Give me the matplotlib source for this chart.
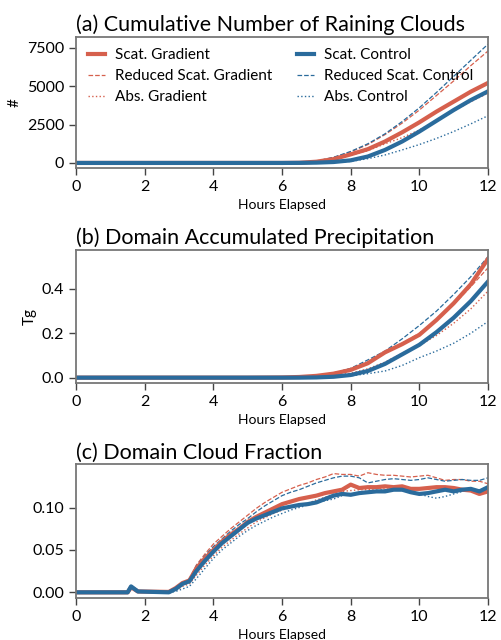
import matplotlib
matplotlib.use('Agg')
import matplotlib.pyplot as plt

plt.rcParams['font.family'] = ['Lato', 'DejaVu Sans']

# colours for the two experiment families
RED = '#d6604d'
BLUE = '#2a6b9c'

labels = ['Scat. Gradient', 'Reduced Scat. Gradient', 'Abs. Gradient',
          'Scat. Control', 'Reduced Scat. Control', 'Abs. Control']

# ---- panel (a) / (b) time axis (hours)
t_ab = [0, 1, 2, 3, 4, 5, 6, 6.5, 7, 7.5, 8, 8.5, 9, 9.5, 10, 10.5, 11, 11.5, 12]

# (a) cumulative number of raining clouds
rain_scat_grad = [0, 0, 0, 0, 0, 0, 0, 10, 80, 250, 560, 900, 1400, 2000, 2650, 3350, 4000, 4650, 5220]
rain_red_grad = [0, 0, 0, 0, 0, 0, 0, 20, 120, 350, 720, 1200, 1850, 2600, 3450, 4400, 5350, 6350, 7300]
rain_abs_grad = [0, 0, 0, 0, 0, 0, 0, 10, 70, 230, 500, 800, 1250, 1650, 2150, 2750, 3400, 4000, 4550]
rain_scat_ctrl = [0, 0, 0, 0, 0, 0, 0, 5, 20, 60, 170, 420, 850, 1400, 2050, 2750, 3450, 4100, 4670]
rain_red_ctrl = [0, 0, 0, 0, 0, 0, 0, 20, 120, 370, 750, 1250, 1900, 2700, 3600, 4600, 5650, 6700, 7750]
rain_abs_ctrl = [0, 0, 0, 0, 0, 0, 0, 0, 10, 40, 100, 280, 520, 850, 1200, 1600, 2050, 2550, 3080]

# (b) domain accumulated precipitation (Tg)
prec_scat_grad = [0, 0, 0, 0, 0, 0, 0.001, 0.003, 0.008, 0.018, 0.035, 0.065, 0.114, 0.151, 0.193, 0.26, 0.335, 0.421, 0.535]
prec_red_grad = [0, 0, 0, 0, 0, 0, 0.001, 0.004, 0.01, 0.022, 0.04, 0.07, 0.115, 0.155, 0.2, 0.26, 0.33, 0.41, 0.495]
prec_abs_grad = [0, 0, 0, 0, 0, 0, 0, 0.001, 0.004, 0.01, 0.02, 0.04, 0.07, 0.11, 0.145, 0.19, 0.245, 0.31, 0.39]
prec_scat_ctrl = [0, 0, 0, 0, 0, 0, 0, 0, 0.001, 0.004, 0.012, 0.03, 0.062, 0.105, 0.148, 0.205, 0.27, 0.345, 0.433]
prec_red_ctrl = [0, 0, 0, 0, 0, 0, 0.001, 0.003, 0.008, 0.02, 0.042, 0.08, 0.12, 0.175, 0.235, 0.3, 0.375, 0.455, 0.545]
prec_abs_ctrl = [0, 0, 0, 0, 0, 0, 0, 0, 0.001, 0.003, 0.008, 0.018, 0.03, 0.055, 0.09, 0.12, 0.155, 0.2, 0.253]

# ---- panel (c) time axis (hours)
t_c = [0, 1.5, 1.6, 1.8, 2.7, 2.9, 3.1, 3.3, 3.5, 3.75, 4.0, 4.25, 4.5, 4.75, 5.0, 5.25, 5.5, 5.75,
       6.0, 6.25, 6.5, 6.75, 7.0, 7.25, 7.5, 7.75, 8.0, 8.25, 8.5, 8.75, 9.0, 9.25, 9.5, 9.75,
       10.0, 10.25, 10.5, 10.75, 11.0, 11.25, 11.5, 11.75, 12.0]

# (c) domain cloud fraction
cf_scat_grad = [0, 0, 0.006, 0.001, 0.0005, 0.005, 0.011, 0.014, 0.028, 0.040, 0.050, 0.060, 0.068, 0.075, 0.083, 0.089, 0.094, 0.099,
                0.104, 0.107, 0.110, 0.112, 0.114, 0.117, 0.119, 0.121, 0.127, 0.123, 0.124, 0.124, 0.125, 0.124, 0.125, 0.122,
                0.122, 0.123, 0.124, 0.124, 0.123, 0.121, 0.120, 0.116, 0.119]
cf_red_grad = [0, 0, 0.005, 0.001, 0.0, 0.004, 0.010, 0.016, 0.032, 0.045, 0.057, 0.066, 0.075, 0.083, 0.091, 0.099, 0.106, 0.112,
               0.118, 0.122, 0.126, 0.129, 0.133, 0.136, 0.140, 0.139, 0.139, 0.137, 0.141, 0.139, 0.138, 0.138, 0.137, 0.136,
               0.137, 0.138, 0.135, 0.132, 0.133, 0.133, 0.131, 0.131, 0.128]
cf_abs_grad = [0, 0, 0.005, 0.001, 0.0, 0.002, 0.007, 0.010, 0.020, 0.032, 0.043, 0.053, 0.061, 0.069, 0.076, 0.083, 0.088, 0.093,
               0.097, 0.100, 0.103, 0.105, 0.109, 0.112, 0.116, 0.119, 0.120, 0.121, 0.121, 0.122, 0.122, 0.121, 0.120, 0.121,
               0.122, 0.124, 0.123, 0.121, 0.121, 0.120, 0.120, 0.120, 0.122]
cf_scat_ctrl = [0, 0, 0.007, 0.001, 0.0, 0.004, 0.010, 0.013, 0.025, 0.037, 0.048, 0.058, 0.066, 0.074, 0.082, 0.087, 0.091, 0.095,
                0.099, 0.101, 0.103, 0.104, 0.106, 0.110, 0.114, 0.116, 0.115, 0.117, 0.118, 0.119, 0.119, 0.121, 0.121, 0.118,
                0.116, 0.117, 0.119, 0.121, 0.119, 0.121, 0.122, 0.119, 0.124]
cf_red_ctrl = [0, 0, 0.005, 0.001, 0.0, 0.004, 0.009, 0.015, 0.031, 0.043, 0.054, 0.063, 0.072, 0.080, 0.087, 0.095, 0.102, 0.108,
               0.114, 0.118, 0.121, 0.125, 0.129, 0.132, 0.135, 0.137, 0.137, 0.135, 0.129, 0.131, 0.133, 0.134, 0.133, 0.132,
               0.133, 0.135, 0.133, 0.131, 0.132, 0.133, 0.132, 0.132, 0.135]
cf_abs_ctrl = [0, 0, 0.005, 0.001, 0.0, 0.001, 0.004, 0.007, 0.016, 0.028, 0.040, 0.050, 0.058, 0.066, 0.073, 0.079, 0.084, 0.089,
               0.093, 0.097, 0.100, 0.103, 0.106, 0.108, 0.110, 0.114, 0.116, 0.117, 0.118, 0.120, 0.121, 0.121, 0.120, 0.119,
               0.116, 0.113, 0.111, 0.113, 0.116, 0.119, 0.121, 0.121, 0.122]

styles = [(RED, '-', 3.0), (RED, '--', 0.9), (RED, ':', 1.0),
          (BLUE, '-', 3.0), (BLUE, '--', 0.9), (BLUE, ':', 1.0)]


def draw(ax, t, series):
    # draw order: thin lines first so the thick ones sit on top
    handles = [None] * 6
    for i in [1, 2, 4, 5, 0, 3]:
        c, ls, lw = styles[i]
        h, = ax.plot(t, series[i], color=c, linestyle=ls, linewidth=lw, label=labels[i])
        handles[i] = h
    return handles


def style_axes(ax, title):
    ax.set_xlim(0, 12)
    ax.set_xticks([0, 2, 4, 6, 8, 10, 12])
    ax.set_title(title, loc='left', fontsize=15.5, pad=4)
    ax.set_xlabel('Hours Elapsed', fontsize=10)
    ax.tick_params(labelsize=11.5, length=5, width=1, color='#444444')
    for s in ax.spines.values():
        s.set_color('#777777')
        s.set_linewidth(1.3)


fig = plt.figure(figsize=(5.01, 6.4), dpi=100)
L, W = 0.152, 0.822

ax1 = fig.add_axes([L, 0.7375, W, 0.205])
hs = draw(ax1, t_ab, [rain_scat_grad, rain_red_grad, rain_abs_grad,
                      rain_scat_ctrl, rain_red_ctrl, rain_abs_ctrl])
ax1.set_ylim(-330, 8230)
ax1.set_yticks([0, 2500, 5000, 7500])
ax1.set_ylabel('#', fontsize=11)
style_axes(ax1, '(a) Cumulative Number of Raining Clouds')
ax1.legend(hs, labels, ncol=2, frameon=False, fontsize=11, loc='upper left',
           handlelength=1.15, handletextpad=0.65, columnspacing=1.6,
           labelspacing=0.45, borderaxespad=0.35)

ax2 = fig.add_axes([L, 0.4016, W, 0.208])
draw(ax2, t_ab, [prec_scat_grad, prec_red_grad, prec_abs_grad,
                 prec_scat_ctrl, prec_red_ctrl, prec_abs_ctrl])
ax2.set_ylim(-0.024, 0.576)
ax2.set_yticks([0.0, 0.2, 0.4])
ax2.set_ylabel('Tg', fontsize=11)
style_axes(ax2, '(b) Domain Accumulated Precipitation')

ax3 = fig.add_axes([L, 0.0656, W, 0.209])
draw(ax3, t_c, [cf_scat_grad, cf_red_grad, cf_abs_grad,
                cf_scat_ctrl, cf_red_ctrl, cf_abs_ctrl])
ax3.set_ylim(-0.0067, 0.151)
ax3.set_yticks([0.0, 0.05, 0.10])
ax3.set_yticklabels(['0.00', '0.05', '0.10'])
style_axes(ax3, '(c) Domain Cloud Fraction')

fig.savefig('out.png', dpi=100)
